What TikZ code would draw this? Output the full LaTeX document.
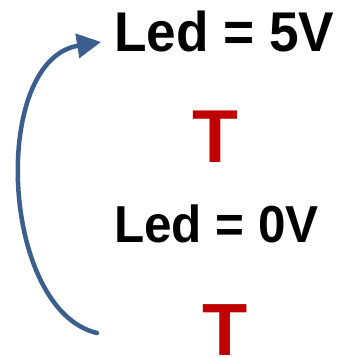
\documentclass[tikz,border=0pt]{standalone}
\usepackage{fontspec}
\setmainfont{Liberation Sans}
\newfontfamily\ledfont[FakeStretch=0.95]{Liberation Sans}
\usetikzlibrary{arrows.meta}
\definecolor{tred}{HTML}{C00000}
\definecolor{arrblue}{HTML}{3A5F8F}
\begin{document}
\begin{tikzpicture}[x=1pt, y=-1pt, every node/.style={inner sep=0pt, anchor=base west}]
	\useasboundingbox (0,0) rectangle (343,358);
	\node (led1) at (114,52) {\ledfont\bfseries\fontsize{56}{60}\selectfont Led = 5V};
	\node (t1) at (192,162) {\color{tred}\bfseries\fontsize{75}{80}\selectfont T};
	\node (led0) at (114,242) {\ledfont\bfseries\fontsize{52}{56}\selectfont Led = 0V};
	\node (t2) at (202,355) {\color{tred}\bfseries\fontsize{74}{80}\selectfont T};
	\coordinate (from) at (97,333);
	\coordinate (to) at (101,42);
	\draw[arrblue, line width=4.5pt, line cap=round, -{Triangle[length=24pt,width=24pt]}]
		(from) .. controls (0,310) and (-10,60) .. (to);
\end{tikzpicture}
\end{document}
